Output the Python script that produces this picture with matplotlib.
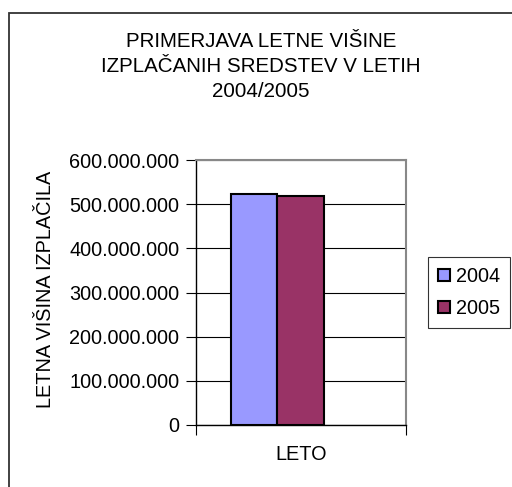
import matplotlib
matplotlib.use("Agg")
import matplotlib.pyplot as plt
from matplotlib.ticker import FuncFormatter
from matplotlib.patches import Rectangle

leta = ['2004', '2005']
izplacila = [522000000, 518000000]
barve = ['#9999FF', '#993366']
yticks = [0, 100000000, 200000000, 300000000, 400000000, 500000000, 600000000]

plt.rcParams['font.family'] = ['Liberation Sans', 'DejaVu Sans']
fs = 14.3

fig = plt.figure(figsize=(5.12, 4.87), dpi=100)
fig.patches.append(Rectangle((9 / 512, -0.1), 1.2, 1 - 13 / 487 + 0.1,
                             transform=fig.transFigure, fill=False,
                             edgecolor='#333333', linewidth=1.3))

ax = fig.add_axes([196 / 512, 1 - 425 / 487, 210 / 512, 265 / 487])
w = 0.222
odmiki = [-0.335, -0.335 + w]
for i in range(len(leta)):
    ax.bar(odmiki[i], izplacila[i], width=w, align='edge', color=barve[i],
           edgecolor='black', linewidth=1.5, label=leta[i], zorder=3)

ax.set_xlim(-0.5, 0.5)
ax.set_ylim(0, 600000000)
ax.set_yticks(yticks)
ax.yaxis.set_major_formatter(FuncFormatter(lambda v, p: f"{int(v):,}".replace(",", ".")))
ax.grid(axis='y', color='black', linewidth=0.8, zorder=1)
ax.set_xticks([-0.5, 0.5])
ax.set_xticklabels(['', ''])
ax.tick_params(axis='both', direction='out', length=7, width=0.8, pad=5,
               labelsize=fs, colors='black')
ax.spines['top'].set_color('#888888')
ax.spines['right'].set_color('#888888')
ax.spines['top'].set_linewidth(1.5)
ax.spines['right'].set_linewidth(1.5)
ax.spines['left'].set_linewidth(1)
ax.spines['bottom'].set_linewidth(1)

fig.text(301 / 512, 1 - 454.5 / 487, 'LETO', fontsize=fs, ha='center', va='center')
fig.text(46 / 512, 1 - 289 / 487, 'LETNA VIŠINA IZPLAČILA', rotation=90,
         fontsize=fs, ha='center', va='center')

fig.text(261 / 512, 1 - 66.5 / 487,
         'PRIMERJAVA LETNE VIŠINE\nIZPLAČANIH SREDSTEV V LETIH\n2004/2005',
         fontsize=14.8, ha='center', va='center', linespacing=1.4)

leg = fig.legend(loc='center left', bbox_to_anchor=(428 / 512, 1 - 292.5 / 487),
                 fontsize=fs, fancybox=False, edgecolor='black',
                 handlelength=0.6, handleheight=0.6, handletextpad=0.3,
                 borderpad=0.5, labelspacing=0.65, borderaxespad=0)
leg.get_frame().set_linewidth(0.8)

plt.savefig('out.png', dpi=100)
